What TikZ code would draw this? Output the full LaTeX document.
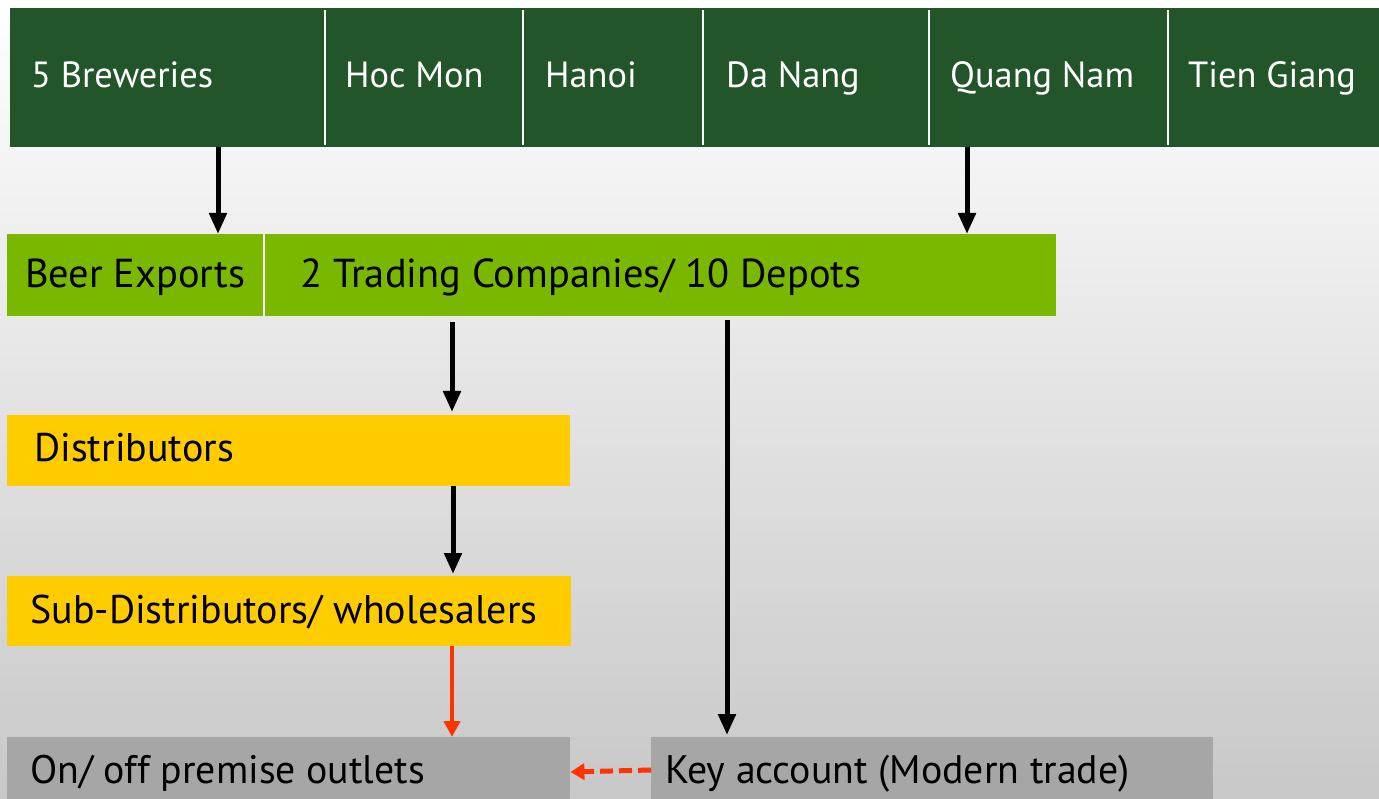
\documentclass[tikz,border=0pt]{standalone}
\usepackage{fontspec}
\setmainfont{PT Sans}
\usetikzlibrary{arrows.meta}
\definecolor{dkgreen}{RGB}{34,85,42}
\definecolor{ltgreen}{RGB}{122,184,0}
\definecolor{gold}{RGB}{255,204,0}
\definecolor{boxgrey}{RGB}{166,166,166}
\definecolor{bgbottom}{RGB}{200,200,200}
\definecolor{redarr}{RGB}{255,51,0}
\newcommand{\lbox}[2]{\makebox[#1][l]{#2}}
\begin{document}
\begin{tikzpicture}[x=1pt,y=-1pt,
  base/.style={anchor=north west, inner ysep=0pt, draw=none},
  cell/.style={base, fill=dkgreen, text height=79pt, text depth=60pt, text=white, font=\fontsize{36.4}{40}\selectfont},
  gbox/.style={base, fill=ltgreen, text height=53pt, text depth=29pt, font=\fontsize{40.4}{46}\selectfont},
  ybox/.style={base, fill=gold, font=\fontsize{40}{46}\selectfont},
  gybox/.style={base, fill=boxgrey, text height=46pt, text depth=22pt, font=\fontsize{39.8}{46}\selectfont},
  sep/.style={white, line width=2pt},
  arr/.style={black, line width=5pt, -{Triangle[length=21pt,width=17pt]}},
  rarr/.style={redarr, line width=4.5pt, -{Triangle[length=16pt,width=16pt]}},
  rdash/.style={redarr, line width=5pt, dash pattern=on 13pt off 6pt, -{Triangle[length=14pt,width=16pt]}}]
\useasboundingbox (0,0) rectangle (1379,799);
\shade[top color=white, bottom color=bgbottom] (0,0) rectangle (1379,799);
% top bar
\node[cell, inner xsep=21pt] (brew) at (10,8) {\lbox{273pt}{5 Breweries}};
\node[cell, inner xsep=20pt] (hoc) at (325,8) {\lbox{158pt}{Hoc Mon}};
\node[cell, inner xsep=22pt] (hanoi) at (523,8) {\lbox{136pt}{Hanoi}};
\node[cell, inner xsep=23pt] (danang) at (703,8) {\lbox{180pt}{Da Nang}};
\node[cell, inner xsep=21pt] (quang) at (929,8) {\lbox{197pt}{Quang Nam}};
\node[cell, inner xsep=20pt] (tien) at (1168,8) {\lbox{171pt}{Tien Giang}};
\foreach \n in {hoc,hanoi,danang,quang,tien}
  \draw[sep, shorten <=2pt, shorten >=2pt] (\n.north west) -- (\n.south west);
% second row
\node[gbox, inner xsep=18pt] (exp) at (7,234) {\lbox{221pt}{Beer Exports}};
\node[gbox, inner xsep=36pt] (trade) at (264,234) {\lbox{720pt}{2 Trading Companies/ 10 Depots}};
\draw[sep] (trade.north west) -- (trade.south west);
% yellow boxes
\node[ybox, text height=46pt, text depth=25pt, inner xsep=27pt] (dist) at (7,415) {\lbox{509pt}{Distributors}};
\node[ybox, text height=47pt, text depth=23pt, inner xsep=23pt] (sub) at (7,576) {\lbox{518pt}{Sub-Distributors/ wholesalers}};
% grey boxes
\node[gybox, inner xsep=23pt] (onoff) at (7,737) {\lbox{517pt}{On/ off premise outlets}};
\node[gybox, inner xsep=14pt] (key) at (651,737) {\lbox{534pt}{Key account (Modern trade)}};
% arrows
\draw[arr] (218,0 |- brew.south) -- (218,0 |- exp.north);
\draw[arr] (967,0 |- quang.south) -- (967,0 |- trade.north);
\draw[arr, shorten <=6pt, shorten >=3pt] (452,0 |- trade.south) -- (452,0 |- dist.north);
\draw[arr, shorten <=4pt, shorten >=2pt] (727,0 |- trade.south) -- (727,0 |- key.north);
\draw[arr, shorten >=2pt] (453,0 |- dist.south) -- (453,0 |- sub.north);
\draw[rarr] (452,0 |- sub.south) -- (452,0 |- onoff.north);
\draw[rdash] (key.west |- 0,770) -- (onoff.east |- 0,772);
\end{tikzpicture}
\end{document}
